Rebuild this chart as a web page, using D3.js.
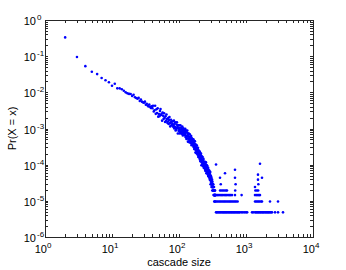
<!DOCTYPE html>
<html>
<head>
<meta charset="utf-8">
<script src="https://cdn.jsdelivr.net/npm/d3@7"></script>
<style>
  html, body { margin: 0; padding: 0; background: #fff; }
  svg { display: block; }
  text { font-family: "Liberation Sans", Arial, sans-serif; fill: #000; }
</style>
</head>
<body>
<svg id="chart" width="346" height="270"></svg>
<script>
// ---- data ----
const totalCascades = 208000;
// cascade sizes 2..349, one count per size
const headStart = 2;
const headCounts = [
  68600, 19800, 11000, 7700, 6650, 5200, 4500, 3950,
  3150, 3600, 2680, 2680, 2520, 2310, 2080, 1950, 1880, 1870,
  1640, 1780, 1520, 1450, 1390, 1460, 1200, 1310, 1150, 1100,
  1080, 1150, 940, 1010, 900, 850, 960, 830, 770, 860,
  760, 888, 612, 665, 884, 528, 704, 558, 750, 443,
  522, 452, 633, 722, 494, 530, 343, 574, 465, 384,
  550, 409, 315, 451, 340, 507, 380, 298, 326, 406,
  276, 355, 430, 292, 238, 310, 364, 252, 320, 271,
  280, 331, 231, 255, 343, 208, 282, 227, 310, 183,
  216, 189, 267, 308, 213, 231, 151, 256, 210, 176,
  256, 193, 151, 219, 167, 254, 193, 153, 170, 216,
  149, 193, 237, 162, 134, 176, 209, 146, 187, 160,
  166, 196, 137, 150, 203, 122, 166, 133, 183, 107,
  127, 111, 158, 182, 126, 138, 90, 152, 125, 104,
  150, 112, 87, 125, 96, 144, 109, 86, 95, 120,
  82, 105, 129, 87, 72, 94, 112, 77, 99, 84,
  87, 102, 71, 78, 105, 64, 86, 69, 94, 56,
  65, 57, 79, 92, 63, 68, 45, 74, 61, 51,
  74, 55, 43, 62, 47, 70, 53, 42, 46, 58,
  39, 50, 61, 41, 34, 44, 52, 36, 46, 39,
  40, 47, 32, 35, 48, 29, 39, 32, 43, 26,
  30, 26, 37, 42, 29, 32, 20, 35, 28, 24,
  35, 26, 20, 29, 22, 34, 25, 20, 22, 28,
  19, 24, 30, 20, 17, 22, 25, 18, 22, 19,
  20, 24, 17, 18, 25, 15, 21, 16, 23, 14,
  16, 14, 20, 24, 17, 18, 12, 20, 16, 14,
  20, 15, 12, 17, 13, 19, 15, 12, 13, 16,
  11, 14, 17, 12, 10, 13, 15, 10, 13, 11,
  12, 14, 10, 11, 14, 9, 12, 9, 13, 8,
  9, 8, 11, 13, 9, 9, 6, 10, 8, 7,
  10, 8, 6, 8, 6, 9, 7, 5, 6, 7,
  5, 6, 8, 5, 4, 6, 7, 5, 6, 5,
  5, 6, 4, 5, 6, 4, 5, 4, 5, 3,
  4, 3, 4, 5, 4, 4, 2, 4, 3, 3,
  4, 3, 2, 3, 3, 4, 3, 2, 3, 3
];
// tail: sizes seen exactly once, twice, ...
const tailSizes1 = [357, 368, 381, 395, 409, 424, 440, 455, 470, 486, 503, 520, 539, 558, 577, 598, 618, 640, 662, 685, 710, 735, 760, 787, 813,
  860, 900, 950, 1000, 1040, 1230, 1280,
  1363, 1410, 1460, 1510, 1560, 1617, 1670, 1733, 1790, 1850, 1922, 1990, 2060, 2130, 2200, 2281, 2360, 2444, 2710, 3005, 3567];
const tailSizes2 = [360, 375, 392, 410, 428, 447, 466, 486, 508, 530, 553, 577, 602, 628, 655, 685, 715, 750,
  1363, 1420, 1480, 1540, 1600, 1680, 1733, 2281, 3005];
const tailSizes3 = [362, 378, 395, 413, 432, 451, 472, 493, 515, 540, 565, 590, 618, 685, 860, 1363, 1430, 1500, 1560, 1617];
const tailSizes4 = [410, 430, 452, 475, 500, 520, 690, 1380, 1450, 1520];
const tailOutlierSizes  = [357, 409, 420, 486, 685, 685, 700, 1617, 1510, 1510, 1530, 1363, 1733];
const tailOutlierCounts = [21, 9, 6, 12, 15, 9, 6, 22, 11, 8, 6, 5, 9];

const xTickExps = [0, 1, 2, 3, 4];
const yTickExps = [-6, -5, -4, -3, -2, -1, 0];

// ---- build points ----
const points = [];
headCounts.forEach((c, i) => points.push({ size: headStart + i, p: c / totalCascades }));
[[tailSizes1, 1], [tailSizes2, 2], [tailSizes3, 3], [tailSizes4, 4]].forEach(([arr, k]) =>
  arr.forEach(s => points.push({ size: s, p: k / totalCascades })));
tailOutlierSizes.forEach((s, i) => points.push({ size: s, p: tailOutlierCounts[i] / totalCascades }));

// ---- layout ----
const svg = d3.select("#chart");
const L = 45, R = 313, T = 20, B = 237;
const x = d3.scaleLog().domain([1, 1e4]).range([L, R]);
const y = d3.scaleLog().domain([1e-6, 1]).range([B, T]);

const xMinor = [], yMinor = [];
for (let e = 0; e < 4; e++) for (let m = 2; m <= 9; m++) xMinor.push(m * Math.pow(10, e));
for (let e = -6; e < 0; e++) for (let m = 2; m <= 9; m++) yMinor.push(m * Math.pow(10, e));
const xMajor = xTickExps.map(e => Math.pow(10, e));
const yMajor = yTickExps.map(e => Math.pow(10, e));

const axisColor = "#262626";
const tickLen = 3;
const g = svg.append("g").attr("stroke", axisColor).attr("stroke-width", 1).attr("shape-rendering", "crispEdges");

g.append("rect").attr("x", L).attr("y", T).attr("width", R - L).attr("height", B - T).attr("fill", "none");

xMajor.concat(xMinor).forEach(v => {
  const px = Math.round(x(v)) + 0.5;
  g.append("line").attr("x1", px).attr("x2", px).attr("y1", B).attr("y2", B - tickLen);
  g.append("line").attr("x1", px).attr("x2", px).attr("y1", T).attr("y2", T + tickLen);
});
yMajor.concat(yMinor).forEach(v => {
  const py = Math.round(y(v)) + 0.5;
  g.append("line").attr("y1", py).attr("y2", py).attr("x1", L).attr("x2", L + tickLen);
  g.append("line").attr("y1", py).attr("y2", py).attr("x1", R).attr("x2", R - tickLen);
});

svg.append("g").selectAll("circle").data(points).join("circle")
  .attr("cx", d => x(d.size))
  .attr("cy", d => y(d.p))
  .attr("r", 1.3)
  .attr("fill", "#0000ff");

xTickExps.forEach(e => {
  const t = svg.append("text").attr("x", x(Math.pow(10, e)) - 2).attr("y", 253)
    .attr("text-anchor", "middle").attr("font-size", 11);
  t.append("tspan").text("10");
  t.append("tspan").attr("dy", -5).attr("font-size", 8).text(e);
});
yTickExps.forEach(e => {
  const t = svg.append("text").attr("x", 36).attr("y", y(Math.pow(10, e)) + 5)
    .attr("text-anchor", "end").attr("font-size", 11);
  t.append("tspan").text("10");
  t.append("tspan").attr("x", 37).attr("dy", -5).attr("font-size", 8).attr("text-anchor", "start").text(e);
});

svg.append("text").attr("x", (L + R) / 2).attr("y", 266).attr("text-anchor", "middle")
  .attr("font-size", 11).text("cascade size");
svg.append("text").attr("transform", `translate(16,${(T + B) / 2}) rotate(-90)`)
  .attr("text-anchor", "middle").attr("font-size", 11).text("Pr(X = x)");
</script>
</body>
</html>
